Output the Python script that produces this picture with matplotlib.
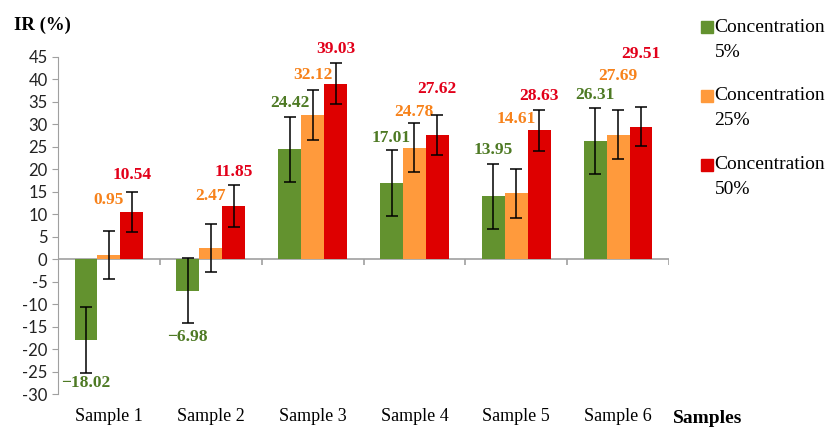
import matplotlib.pyplot as plt
from matplotlib.patches import Rectangle

plt.rcParams['axes.unicode_minus'] = False

# IR (%) per sample at three concentrations
samples = ['Sample 1', 'Sample 2', 'Sample 3', 'Sample 4', 'Sample 5', 'Sample 6']
series = ['Concentration\n5%', 'Concentration\n25%', 'Concentration\n50%']
ir_5 = [-18.02, -6.98, 24.42, 17.01, 13.95, 26.31]
ir_25 = [0.95, 2.47, 32.12, 24.78, 14.61, 27.69]
ir_50 = [10.54, 11.85, 39.03, 27.62, 28.63, 29.51]
err_5 = [7.3, 7.3, 7.3, 7.3, 7.3, 7.3]
err_25 = [5.4, 5.4, 5.5, 5.5, 5.4, 5.5]
err_50 = [4.4, 4.6, 4.5, 4.5, 4.6, 4.4]

# heights where the value labels sit (they were placed by hand in the original)
lab_5 = [-27.6, -17.4, 34.7, 26.9, 24.3, 36.5]
lab_25 = [13.1, 14.0, 40.9, 32.7, 31.2, 40.7]
lab_50 = [18.7, 19.4, 46.7, 37.8, 36.3, 45.6]

bar_colors = ['#63922F', '#FF9A3C', '#DE0000']
text_colors = ['#4E7A24', '#F7821B', '#E2001A']

serif = 'Liberation Serif'

fig = plt.figure(figsize=(8.29, 4.30), dpi=100)
ax = fig.add_axes([0.07, 0.0837, 0.737, 0.784])

x = list(range(len(samples)))
w = 0.225
offs = [-w, 0, w]
vals = [ir_5, ir_25, ir_50]
errs = [err_5, err_25, err_50]
labs = [lab_5, lab_25, lab_50]

for i in range(3):
    xs = [xi + offs[i] for xi in x]
    ax.bar(xs, vals[i], width=w, color=bar_colors[i], zorder=2)
    ax.errorbar(xs, vals[i], yerr=errs[i], fmt='none', ecolor='black',
                elinewidth=1.1, capsize=4, capthick=1.1, zorder=3)
    for xv, v, ly in zip(xs, vals[i], labs[i]):
        txt = f'{v:.2f}'.replace('-', '\u2212')
        ax.text(xv, ly, txt, ha='center', va='center', fontsize=12.5,
                fontweight='bold', color=text_colors[i], family=serif,
                clip_on=False)

ax.set_xlim(-0.5, 5.5)
ax.set_ylim(-30, 45)
ax.set_yticks(range(-30, 50, 5))
ax.tick_params(axis='y', length=4, color='#A0A0A0', labelsize=12,
               labelcolor='#222222')
for lbl in ax.get_yticklabels():
    lbl.set_family('Lato')

ax.set_xticks(x)
ax.set_xticklabels(samples, family=serif, fontsize=13)
ax.tick_params(axis='x', length=0, pad=10)

for s in ['top', 'right', 'bottom']:
    ax.spines[s].set_visible(False)
ax.spines['left'].set_color('#A0A0A0')

# zero line with category separators
ax.axhline(0, color='#A0A0A0', lw=1.2, zorder=1)
ax.vlines([b + 0.5 for b in x], -1.4, 0, color='#A0A0A0', lw=1.2, zorder=1)

fig.text(0.017, 0.94, 'IR (%)', family=serif, fontweight='bold', fontsize=13.5,
         va='center')
fig.text(0.812, 0.027, 'Samples', family=serif, fontweight='bold', fontsize=14,
         va='center')

# legend drawn by hand so the square lines up with the first text line
ys = [0.937, 0.777, 0.617]
for name, c, yy in zip(series, bar_colors, ys):
    fig.patches.append(Rectangle((0.845, yy - 0.014), 0.0145, 0.028,
                                 transform=fig.transFigure, color=c))
    fig.text(0.862, yy, name.split('\n')[0], family=serif, fontsize=14,
             va='center')
    fig.text(0.862, yy - 0.058, name.split('\n')[1], family=serif, fontsize=14,
             va='center')

plt.savefig('out.png', dpi=100)
